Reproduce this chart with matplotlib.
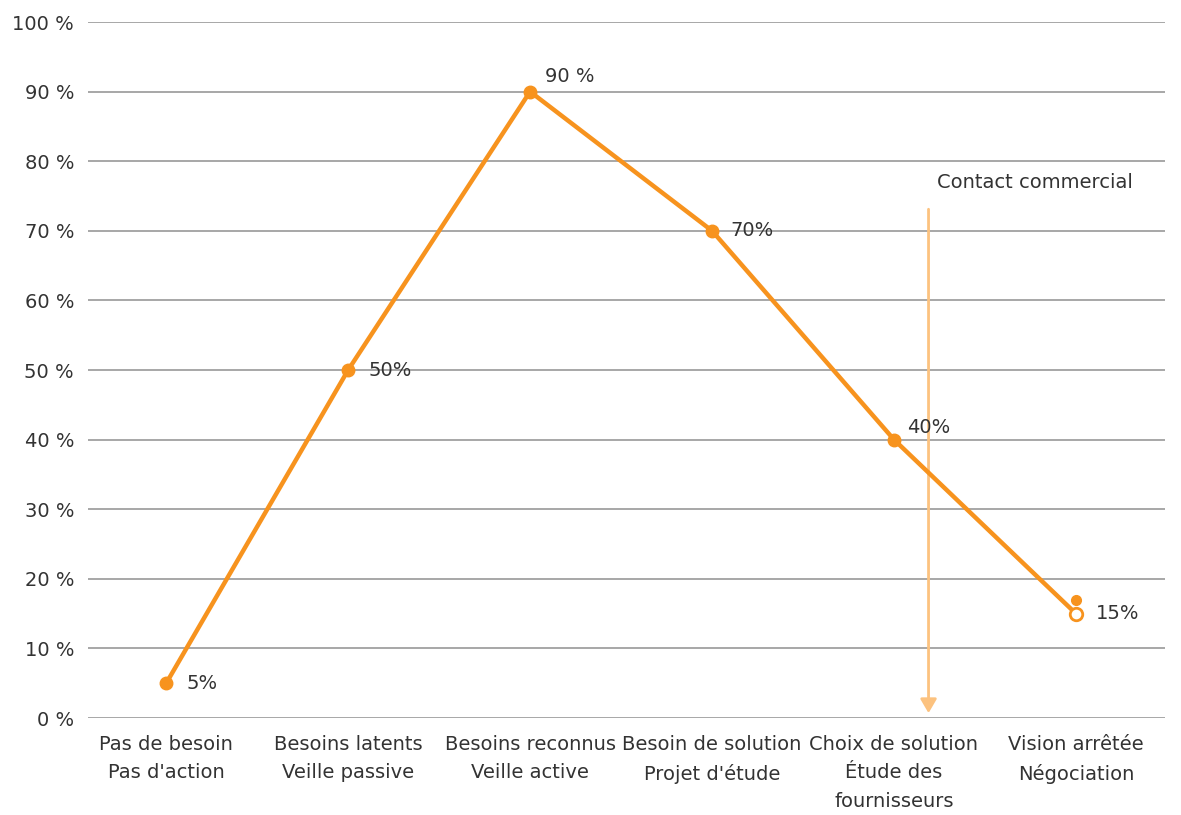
import matplotlib
matplotlib.use("Agg")
import matplotlib.pyplot as plt
from matplotlib.patches import FancyArrowPatch

plt.rcParams['font.family'] = ['DejaVu Sans']

stages = ["Pas de besoin\nPas d'action", "Besoins latents\nVeille passive",
          "Besoins reconnus\nVeille active", "Besoin de solution\nProjet d'étude",
          "Choix de solution\nÉtude des\nfournisseurs", "Vision arrêtée\nNégociation"]
values = [5, 50, 90, 70, 40, 15]
value_labels = ["5%", "50%", "90 %", "70%", "40%", "15%"]
extra_dot = 17
contact_label = "Contact commercial"
contact_pos = 4.19
contact_top = 73.5
y_ticks = list(range(0, 101, 10))

orange = "#F7931E"
text_col = "#333333"
fs = 14

fig = plt.figure(figsize=(11.81, 8.15), dpi=100)
ax = fig.add_axes([0.0745, 0.119, 0.912, 0.854])

x = list(range(len(values)))
for y in y_ticks:
    ax.axhline(y, color="#a0a0a0", lw=1.3, zorder=1)

ax.plot(x, values, color=orange, lw=3.2, zorder=3, solid_capstyle="round")
ax.plot(x[:-1], values[:-1], 'o', color=orange, ms=9, zorder=4)
ax.plot(x[-1], values[-1], 'o', mfc="white", mec=orange, mew=2, ms=9, zorder=4)
ax.plot(x[-1], extra_dot, 'o', color=orange, ms=7, zorder=4)

offsets = [(0.11, 0), (0.11, 0), (0.08, 2.2), (0.1, 0), (0.07, 1.7), (0.11, 0)]
for xi, v, lab, (dx, dy) in zip(x, values, value_labels, offsets):
    ax.text(xi + dx, v + dy, lab, fontsize=fs, color=text_col,
            ha="left", va="center", zorder=5)

arrow = FancyArrowPatch((contact_pos, contact_top), (contact_pos, 0.3),
                        arrowstyle="-|>,head_length=0.6,head_width=0.35",
                        mutation_scale=14, color="#FCC27F", lw=2, zorder=2)
ax.add_patch(arrow)
ax.text(contact_pos + 0.045, 76.9, contact_label, fontsize=fs, color=text_col,
        ha="left", va="center")

ax.set_xlim(-0.43, 5.49)
ax.set_ylim(0, 100)
ax.set_yticks(y_ticks)
ax.set_yticklabels([f"{t} %" for t in y_ticks], fontsize=fs, color=text_col)
ax.set_xticks(x)
ax.set_xticklabels(stages, fontsize=fs, color=text_col, linespacing=1.65)
ax.tick_params(length=0, pad=12)
ax.tick_params(axis='y', pad=10)
for s in ax.spines.values():
    s.set_visible(False)

fig.savefig("out.png", dpi=100)
